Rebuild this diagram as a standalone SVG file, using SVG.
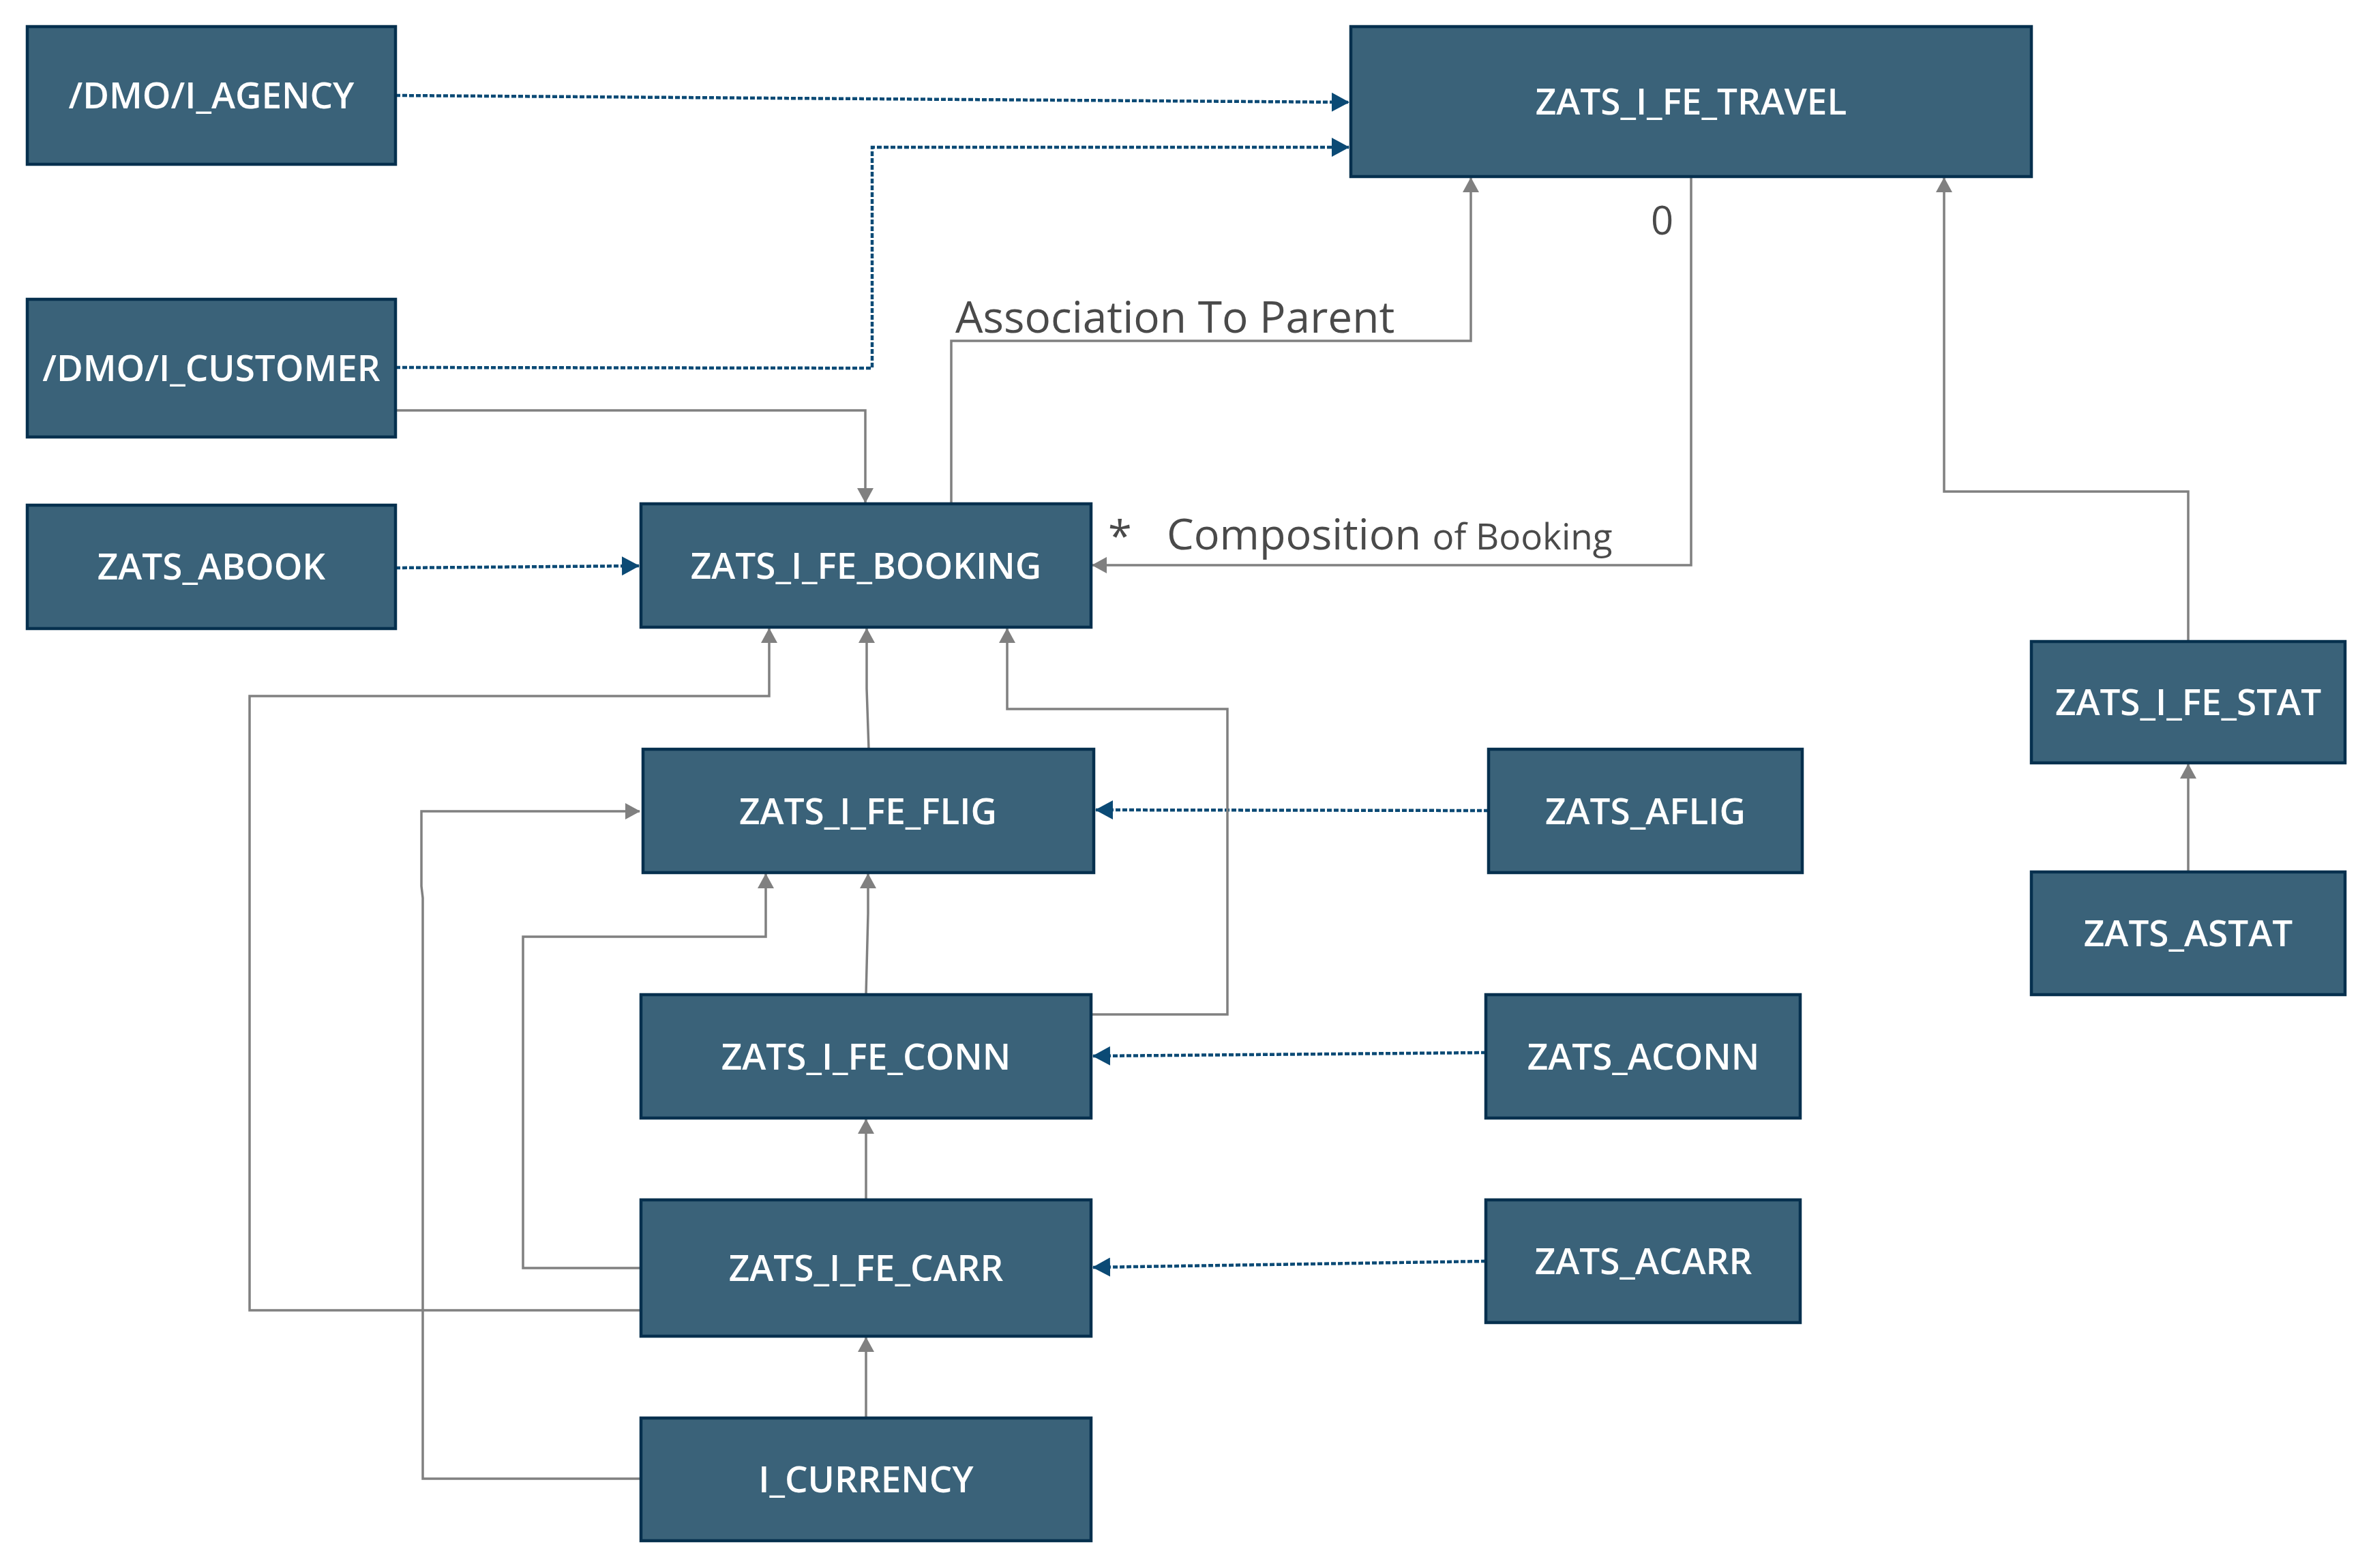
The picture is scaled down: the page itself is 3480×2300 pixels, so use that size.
<svg xmlns="http://www.w3.org/2000/svg" width="3480" height="2300" viewBox="0 0 3480 2300">
<style>
.box{fill:#3a6279;stroke:#06304e;stroke-width:4.5}
.lbl{font-family:"Open Sans","Noto Sans","DejaVu Sans",sans-serif;font-weight:600;font-size:53px;fill:#ffffff;text-anchor:middle}
.gl{fill:none;stroke:#808080;stroke-width:3.5}
.dl{fill:none;stroke:#0b4a75;stroke-width:4.5;stroke-dasharray:7 3}
.ct{font-family:"Open Sans","Noto Sans","DejaVu Sans",sans-serif;fill:#4a4a4a}
</style>
<defs>
<marker id="ga" markerUnits="userSpaceOnUse" markerWidth="24" markerHeight="24" viewBox="0 0 22 24" refX="21" refY="12" orient="auto">
<path d="M0,0 L22,12 L0,24 Z" fill="#808080"/>
</marker>
<marker id="ba" markerUnits="userSpaceOnUse" markerWidth="26" markerHeight="28" viewBox="0 0 26 28" refX="25" refY="14" orient="auto">
<path d="M0,0 L26,14 L0,28 Z" fill="#0b4a75"/>
</marker>
</defs>
<rect width="3480" height="2300" fill="#ffffff"/>

<g id="connectors">
<path class="dl" d="M580,140 L1978,150" marker-end="url(#ba)"/>
<path class="dl" d="M580,539 L1279,540 L1279,216 L1978,216" marker-end="url(#ba)"/>
<path class="dl" d="M580,833 L937,830" marker-end="url(#ba)"/>
<path class="dl" d="M2183,1189 L1607,1188" marker-end="url(#ba)"/>
<path class="dl" d="M2179,1544 L1603,1549" marker-end="url(#ba)"/>
<path class="dl" d="M2179,1850 L1603,1859" marker-end="url(#ba)"/>

<path class="gl" d="M580,602 L1269,602 L1269,737" marker-end="url(#ga)"/>
<path class="gl" d="M1395,739 L1395,500 L2157,500 L2157,261" marker-end="url(#ga)"/>
<path class="gl" d="M2480,259 L2480,829 L1602,829" marker-end="url(#ga)"/>
<path class="gl" d="M3209,941 L3209,721 L2851,721 L2851,261" marker-end="url(#ga)"/>
<path class="gl" d="M3209,1279 L3209,1121" marker-end="url(#ga)"/>
<path class="gl" d="M1274,1099 L1271,1010 L1271,922" marker-end="url(#ga)"/>
<path class="gl" d="M940,1922 L366,1922 L366,1021 L1128,1021 L1128,922" marker-end="url(#ga)"/>
<path class="gl" d="M1600,1488 L1800,1488 L1800,1040 L1477,1040 L1477,922" marker-end="url(#ga)"/>
<path class="gl" d="M940,2169 L620,2169 L620,1317 L618,1300 L618,1190 L938,1190" marker-end="url(#ga)"/>
<path class="gl" d="M940,1860 L767,1860 L767,1374 L1123,1374 L1123,1282" marker-end="url(#ga)"/>
<path class="gl" d="M1270,1459 L1273,1340 L1273,1282" marker-end="url(#ga)"/>
<path class="gl" d="M1270,1760 L1270,1642" marker-end="url(#ga)"/>
<path class="gl" d="M1270,2080 L1270,1962" marker-end="url(#ga)"/>

<text class="ct" x="1401" y="488" font-size="64">Association To Parent</text>
<text class="ct" x="2421" y="344" font-size="58">0</text>
<text class="ct" x="1625" y="808" font-size="63">*</text>
<text class="ct" x="1711" y="806" font-size="63">Composition <tspan font-size="53">of Booking</tspan></text>
</g>

<g id="agency"><rect class="box" x="40" y="39" width="540" height="202"/><text class="lbl" x="310" y="159">/DMO/I_AGENCY</text></g>
<g id="customer"><rect class="box" x="40" y="439" width="540" height="202"/><text class="lbl" x="310" y="559">/DMO/I_CUSTOMER</text></g>
<g id="abook"><rect class="box" x="40" y="741" width="540" height="181"/><text class="lbl" x="310" y="850">ZATS_ABOOK</text></g>
<g id="travel"><rect class="box" x="1981" y="39" width="998" height="220"/><text class="lbl" x="2480" y="168">ZATS_I_FE_TRAVEL</text></g>
<g id="booking"><rect class="box" x="940" y="739" width="660" height="181"/><text class="lbl" x="1270" y="849">ZATS_I_FE_BOOKING</text></g>
<g id="flig"><rect class="box" x="943" y="1099" width="661" height="181"/><text class="lbl" x="1273" y="1209">ZATS_I_FE_FLIG</text></g>
<g id="conn"><rect class="box" x="940" y="1459" width="660" height="181"/><text class="lbl" x="1270" y="1569">ZATS_I_FE_CONN</text></g>
<g id="carr"><rect class="box" x="940" y="1760" width="660" height="200"/><text class="lbl" x="1270" y="1879">ZATS_I_FE_CARR</text></g>
<g id="currency"><rect class="box" x="940" y="2080" width="660" height="180"/><text class="lbl" x="1270" y="2189">I_CURRENCY</text></g>
<g id="aflig"><rect class="box" x="2183" y="1099" width="460" height="181"/><text class="lbl" x="2413" y="1209">ZATS_AFLIG</text></g>
<g id="aconn"><rect class="box" x="2179" y="1459" width="461" height="181"/><text class="lbl" x="2410" y="1569">ZATS_ACONN</text></g>
<g id="acarr"><rect class="box" x="2179" y="1760" width="461" height="180"/><text class="lbl" x="2410" y="1869">ZATS_ACARR</text></g>
<g id="stat"><rect class="box" x="2979" y="941" width="460" height="178"/><text class="lbl" x="3209" y="1049">ZATS_I_FE_STAT</text></g>
<g id="astat"><rect class="box" x="2979" y="1279" width="460" height="180"/><text class="lbl" x="3209" y="1388">ZATS_ASTAT</text></g>
</svg>
